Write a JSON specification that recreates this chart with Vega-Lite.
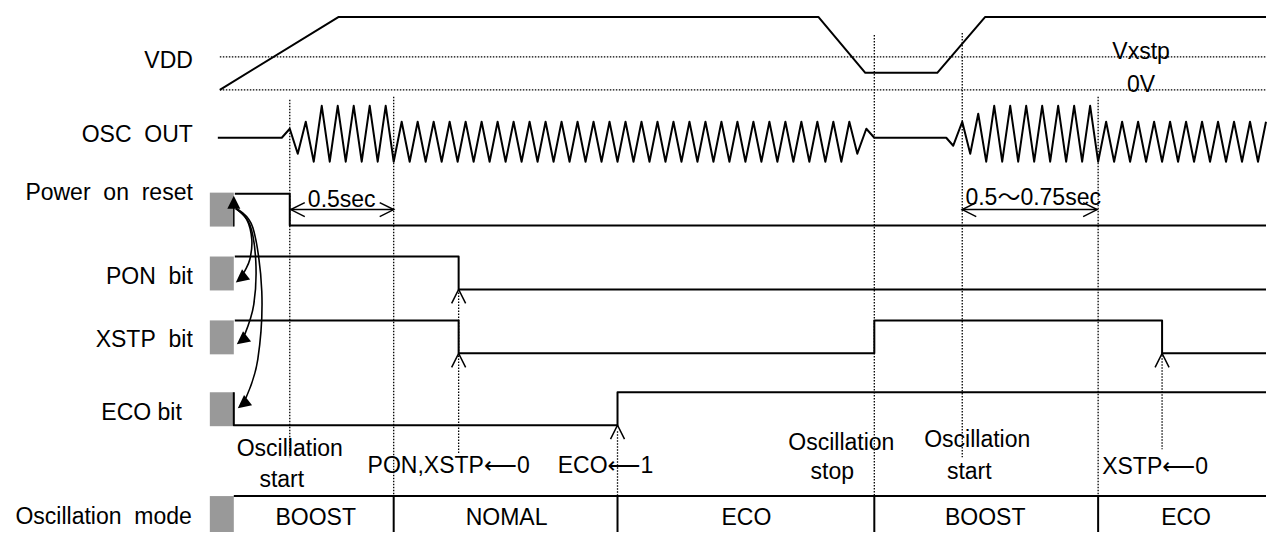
{
  "$schema": "https://vega.github.io/schema/vega-lite/v6.json",
  "width": 1267,
  "height": 533,
  "autosize": {"type": "fit", "contains": "padding"},
  "padding": 0,
  "background": "white",
  "config": {"view": {"stroke": null}, "font": "Liberation Sans"},
  "datasets": {
    "box": [
      {"x": 210, "x2": 234, "y": 193, "y2": 227},
      {"x": 210, "x2": 234, "y": 257, "y2": 291},
      {"x": 210, "x2": 234, "y": 321, "y2": 355},
      {"x": 210, "x2": 234, "y": 393, "y2": 427},
      {"x": 210, "x2": 234, "y": 497, "y2": 533}
    ],
    "wave": [
      {"s": "vdd", "x": 220, "y": 90}, {"s": "vdd", "x": 339, "y": 17}, {"s": "vdd", "x": 819, "y": 17}, {"s": "vdd", "x": 866, "y": 73}, {"s": "vdd", "x": 938, "y": 73}, {"s": "vdd", "x": 986, "y": 17}, {"s": "vdd", "x": 1267, "y": 17},
      {"s": "por", "x": 235, "y": 194}, {"s": "por", "x": 290, "y": 194}, {"s": "por", "x": 290, "y": 226}, {"s": "por", "x": 1267, "y": 226},
      {"s": "pon", "x": 235, "y": 257}, {"s": "pon", "x": 459, "y": 257}, {"s": "pon", "x": 459, "y": 290}, {"s": "pon", "x": 1267, "y": 290},
      {"s": "xstp", "x": 235, "y": 321}, {"s": "xstp", "x": 459, "y": 321}, {"s": "xstp", "x": 459, "y": 354}, {"s": "xstp", "x": 875, "y": 354}, {"s": "xstp", "x": 875, "y": 321}, {"s": "xstp", "x": 1163, "y": 321}, {"s": "xstp", "x": 1163, "y": 354}, {"s": "xstp", "x": 1267, "y": 354},
      {"s": "eco", "x": 234, "y": 393}, {"s": "eco", "x": 234, "y": 426}, {"s": "eco", "x": 618, "y": 426}, {"s": "eco", "x": 618, "y": 393}, {"s": "eco", "x": 1267, "y": 393},
      {"s": "mode", "x": 234, "y": 497}, {"s": "mode", "x": 1267, "y": 497},
      {"s": "osc", "x": 218, "y": 138}, {"s": "osc", "x": 282, "y": 138}, {"s": "osc", "x": 290, "y": 129}, {"s": "osc", "x": 298, "y": 154}, {"s": "osc", "x": 306, "y": 122}, {"s": "osc", "x": 314, "y": 162},
      {"s": "osc", "x": 322, "y": 106}, {"s": "osc", "x": 330, "y": 162}, {"s": "osc", "x": 338, "y": 106}, {"s": "osc", "x": 346, "y": 162}, {"s": "osc", "x": 354, "y": 106}, {"s": "osc", "x": 362, "y": 162}, {"s": "osc", "x": 370, "y": 106}, {"s": "osc", "x": 378, "y": 162}, {"s": "osc", "x": 386, "y": 106}, {"s": "osc", "x": 394, "y": 162},
      {"s": "osc", "x": 402, "y": 122}, {"s": "osc", "x": 410, "y": 162}, {"s": "osc", "x": 418, "y": 122}, {"s": "osc", "x": 426, "y": 162}, {"s": "osc", "x": 434, "y": 122}, {"s": "osc", "x": 442, "y": 162}, {"s": "osc", "x": 450, "y": 122}, {"s": "osc", "x": 458, "y": 162},
      {"s": "osc", "x": 466, "y": 122}, {"s": "osc", "x": 474, "y": 162}, {"s": "osc", "x": 482, "y": 122}, {"s": "osc", "x": 490, "y": 162}, {"s": "osc", "x": 498, "y": 122}, {"s": "osc", "x": 506, "y": 162}, {"s": "osc", "x": 514, "y": 122}, {"s": "osc", "x": 522, "y": 162},
      {"s": "osc", "x": 530, "y": 122}, {"s": "osc", "x": 538, "y": 162}, {"s": "osc", "x": 546, "y": 122}, {"s": "osc", "x": 554, "y": 162}, {"s": "osc", "x": 562, "y": 122}, {"s": "osc", "x": 570, "y": 162}, {"s": "osc", "x": 578, "y": 122}, {"s": "osc", "x": 586, "y": 162},
      {"s": "osc", "x": 594, "y": 122}, {"s": "osc", "x": 602, "y": 162}, {"s": "osc", "x": 610, "y": 122}, {"s": "osc", "x": 618, "y": 162}, {"s": "osc", "x": 626, "y": 122}, {"s": "osc", "x": 634, "y": 162}, {"s": "osc", "x": 642, "y": 122}, {"s": "osc", "x": 650, "y": 162},
      {"s": "osc", "x": 658, "y": 122}, {"s": "osc", "x": 666, "y": 162}, {"s": "osc", "x": 674, "y": 122}, {"s": "osc", "x": 682, "y": 162}, {"s": "osc", "x": 690, "y": 122}, {"s": "osc", "x": 698, "y": 162}, {"s": "osc", "x": 706, "y": 122}, {"s": "osc", "x": 714, "y": 162},
      {"s": "osc", "x": 722, "y": 122}, {"s": "osc", "x": 730, "y": 162}, {"s": "osc", "x": 738, "y": 122}, {"s": "osc", "x": 746, "y": 162}, {"s": "osc", "x": 754, "y": 122}, {"s": "osc", "x": 762, "y": 162}, {"s": "osc", "x": 770, "y": 122}, {"s": "osc", "x": 778, "y": 162},
      {"s": "osc", "x": 786, "y": 122}, {"s": "osc", "x": 794, "y": 162}, {"s": "osc", "x": 802, "y": 122}, {"s": "osc", "x": 810, "y": 162}, {"s": "osc", "x": 818, "y": 122}, {"s": "osc", "x": 826, "y": 162}, {"s": "osc", "x": 834, "y": 122}, {"s": "osc", "x": 842, "y": 162},
      {"s": "osc", "x": 850, "y": 122}, {"s": "osc", "x": 858, "y": 154}, {"s": "osc", "x": 867, "y": 129}, {"s": "osc", "x": 875, "y": 138}, {"s": "osc", "x": 947, "y": 138}, {"s": "osc", "x": 954, "y": 146}, {"s": "osc", "x": 963, "y": 122}, {"s": "osc", "x": 971, "y": 154},
      {"s": "osc", "x": 979, "y": 114}, {"s": "osc", "x": 987, "y": 162}, {"s": "osc", "x": 995, "y": 106}, {"s": "osc", "x": 1003, "y": 162}, {"s": "osc", "x": 1011, "y": 106}, {"s": "osc", "x": 1019, "y": 162}, {"s": "osc", "x": 1027, "y": 106}, {"s": "osc", "x": 1035, "y": 162},
      {"s": "osc", "x": 1043, "y": 106}, {"s": "osc", "x": 1051, "y": 162}, {"s": "osc", "x": 1059, "y": 106}, {"s": "osc", "x": 1067, "y": 162}, {"s": "osc", "x": 1075, "y": 106}, {"s": "osc", "x": 1083, "y": 162}, {"s": "osc", "x": 1091, "y": 106}, {"s": "osc", "x": 1099, "y": 162},
      {"s": "osc", "x": 1107, "y": 122}, {"s": "osc", "x": 1115, "y": 162}, {"s": "osc", "x": 1123, "y": 122}, {"s": "osc", "x": 1131, "y": 162}, {"s": "osc", "x": 1139, "y": 122}, {"s": "osc", "x": 1147, "y": 162}, {"s": "osc", "x": 1155, "y": 122}, {"s": "osc", "x": 1163, "y": 162},
      {"s": "osc", "x": 1171, "y": 122}, {"s": "osc", "x": 1179, "y": 162}, {"s": "osc", "x": 1187, "y": 122}, {"s": "osc", "x": 1195, "y": 162}, {"s": "osc", "x": 1203, "y": 122}, {"s": "osc", "x": 1211, "y": 162}, {"s": "osc", "x": 1219, "y": 122}, {"s": "osc", "x": 1227, "y": 162},
      {"s": "osc", "x": 1235, "y": 122}, {"s": "osc", "x": 1243, "y": 162}, {"s": "osc", "x": 1251, "y": 122}, {"s": "osc", "x": 1259, "y": 162}, {"s": "osc", "x": 1267, "y": 122}
    ],
    "dot": [
      {"x": 220, "x2": 1267, "y": 57, "y2": 57},
      {"x": 220, "x2": 1267, "y": 90, "y2": 90},
      {"x": 290, "x2": 290, "y": 100, "y2": 458},
      {"x": 394, "x2": 394, "y": 97, "y2": 497},
      {"x": 459, "x2": 459, "y": 293, "y2": 455},
      {"x": 618, "x2": 618, "y": 432, "y2": 497},
      {"x": 875, "x2": 875, "y": 35, "y2": 497},
      {"x": 963, "x2": 963, "y": 33, "y2": 458},
      {"x": 1099, "x2": 1099, "y": 97, "y2": 497},
      {"x": 1163, "x2": 1163, "y": 356, "y2": 450}
    ],
    "seg": [
      {"x": 394, "x2": 394, "y": 497, "y2": 533},
      {"x": 618, "x2": 618, "y": 497, "y2": 533},
      {"x": 875, "x2": 875, "y": 497, "y2": 533},
      {"x": 1099, "x2": 1099, "y": 497, "y2": 533}
    ],
    "thin": [
      {"x": 291, "x2": 394, "y": 210, "y2": 210},
      {"x": 963, "x2": 1098, "y": 210, "y2": 210},
      {"x": 234, "x2": 234, "y": 205, "y2": 227}
    ],
    "curve": [
      {"s": "c1", "x": 236, "y": 209}, {"s": "c1", "x": 247, "y": 220}, {"s": "c1", "x": 252, "y": 240}, {"s": "c1", "x": 250, "y": 260}, {"s": "c1", "x": 244, "y": 273},
      {"s": "c2", "x": 236, "y": 209}, {"s": "c2", "x": 250, "y": 225}, {"s": "c2", "x": 256, "y": 262}, {"s": "c2", "x": 254, "y": 305}, {"s": "c2", "x": 245, "y": 335},
      {"s": "c3", "x": 236, "y": 209}, {"s": "c3", "x": 253, "y": 228}, {"s": "c3", "x": 262, "y": 292}, {"s": "c3", "x": 258, "y": 360}, {"s": "c3", "x": 246, "y": 399}
    ],
    "head": [
      {"x": 234, "y": 196, "a": 0},
      {"x": 236, "y": 283, "a": 232},
      {"x": 237, "y": 345, "a": 232},
      {"x": 238, "y": 409, "a": 232}
    ],
    "chev": [
      {"x": 459, "y": 290, "a": 0},
      {"x": 459, "y": 354, "a": 0},
      {"x": 618, "y": 426, "a": 0},
      {"x": 1163, "y": 354, "a": 0},
      {"x": 291, "y": 210, "a": 270},
      {"x": 394, "y": 210, "a": 90},
      {"x": 963, "y": 210, "a": 270},
      {"x": 1098, "y": 210, "a": 90}
    ],
    "lab": [
      {"x": 193, "y": 68, "t": "VDD"},
      {"x": 193, "y": 142, "t": "OSC\u00a0\u00a0OUT"},
      {"x": 193, "y": 200, "t": "Power\u00a0\u00a0on\u00a0\u00a0reset"},
      {"x": 193, "y": 285, "t": "PON\u00a0\u00a0bit"},
      {"x": 193, "y": 348, "t": "XSTP\u00a0\u00a0bit"},
      {"x": 182, "y": 421, "t": "ECO bit"},
      {"x": 192, "y": 525, "t": "Oscillation\u00a0\u00a0mode"}
    ],
    "ann": [
      {"x": 290, "y": 457, "t": "Oscillation"},
      {"x": 282, "y": 488, "t": "start"},
      {"x": 449, "y": 474, "t": "PON,XSTP⟵0"},
      {"x": 606, "y": 474, "t": "ECO⟵1"},
      {"x": 842, "y": 451, "t": "Oscillation"},
      {"x": 833, "y": 480, "t": "stop"},
      {"x": 978, "y": 448, "t": "Oscillation"},
      {"x": 970, "y": 480, "t": "start"},
      {"x": 1156, "y": 475, "t": "XSTP⟵0"},
      {"x": 316, "y": 526, "t": "BOOST"},
      {"x": 507, "y": 526, "t": "NOMAL"},
      {"x": 747, "y": 526, "t": "ECO"},
      {"x": 986, "y": 526, "t": "BOOST"},
      {"x": 1187, "y": 526, "t": "ECO"},
      {"x": 1142, "y": 59, "t": "Vxstp"},
      {"x": 1142, "y": 92, "t": "0V"},
      {"x": 342, "y": 207, "t": "0.5sec"},
      {"x": 1034, "y": 205, "t": "0.5～0.75sec"}
    ]
  },
  "layer": [
    {
      "data": {"name": "box"},
      "mark": {"type": "rect", "color": "#999999"},
      "encoding": {
        "x": {"field": "x", "type": "quantitative", "scale": {"domain": [0, 1267], "nice": false, "zero": false}, "axis": null},
        "x2": {"field": "x2"},
        "y": {"field": "y", "type": "quantitative", "scale": {"domain": [0, 533], "reverse": true, "nice": false, "zero": false}, "axis": null},
        "y2": {"field": "y2"}
      }
    },
    {
      "data": {"name": "dot"},
      "mark": {"type": "rule", "color": "black", "strokeWidth": 1.3, "strokeDash": [1.5, 1.5]},
      "encoding": {
        "x": {"field": "x", "type": "quantitative", "scale": {"domain": [0, 1267], "nice": false, "zero": false}, "axis": null},
        "x2": {"field": "x2"},
        "y": {"field": "y", "type": "quantitative", "scale": {"domain": [0, 533], "reverse": true, "nice": false, "zero": false}, "axis": null},
        "y2": {"field": "y2"}
      }
    },
    {
      "data": {"name": "wave"},
      "mark": {"type": "line", "color": "black", "strokeWidth": 2, "strokeJoin": "round"},
      "encoding": {
        "x": {"field": "x", "type": "quantitative", "scale": {"domain": [0, 1267], "nice": false, "zero": false}, "axis": null},
        "y": {"field": "y", "type": "quantitative", "scale": {"domain": [0, 533], "reverse": true, "nice": false, "zero": false}, "axis": null},
        "detail": {"field": "s", "type": "nominal"},
        "order": {"value": null}
      }
    },
    {
      "data": {"name": "seg"},
      "mark": {"type": "rule", "color": "black", "strokeWidth": 2},
      "encoding": {
        "x": {"field": "x", "type": "quantitative", "scale": {"domain": [0, 1267], "nice": false, "zero": false}, "axis": null},
        "x2": {"field": "x2"},
        "y": {"field": "y", "type": "quantitative", "scale": {"domain": [0, 533], "reverse": true, "nice": false, "zero": false}, "axis": null},
        "y2": {"field": "y2"}
      }
    },
    {
      "data": {"name": "thin"},
      "mark": {"type": "rule", "color": "black", "strokeWidth": 1.5},
      "encoding": {
        "x": {"field": "x", "type": "quantitative", "scale": {"domain": [0, 1267], "nice": false, "zero": false}, "axis": null},
        "x2": {"field": "x2"},
        "y": {"field": "y", "type": "quantitative", "scale": {"domain": [0, 533], "reverse": true, "nice": false, "zero": false}, "axis": null},
        "y2": {"field": "y2"}
      }
    },
    {
      "data": {"name": "curve"},
      "mark": {"type": "line", "color": "black", "strokeWidth": 1.6, "interpolate": "cardinal"},
      "encoding": {
        "x": {"field": "x", "type": "quantitative", "scale": {"domain": [0, 1267], "nice": false, "zero": false}, "axis": null},
        "y": {"field": "y", "type": "quantitative", "scale": {"domain": [0, 533], "reverse": true, "nice": false, "zero": false}, "axis": null},
        "detail": {"field": "s", "type": "nominal"},
        "order": {"value": null}
      }
    },
    {
      "data": {"name": "head"},
      "mark": {"type": "point", "shape": "M0,0L1,2L-1,2Z", "filled": true, "color": "black", "opacity": 1, "size": 169},
      "encoding": {
        "x": {"field": "x", "type": "quantitative", "scale": {"domain": [0, 1267], "nice": false, "zero": false}, "axis": null},
        "y": {"field": "y", "type": "quantitative", "scale": {"domain": [0, 533], "reverse": true, "nice": false, "zero": false}, "axis": null},
        "angle": {"field": "a", "type": "quantitative", "scale": null}
      }
    },
    {
      "data": {"name": "chev"},
      "mark": {"type": "point", "shape": "M-1,2L0,0L1,2", "filled": false, "color": "black", "opacity": 1, "strokeWidth": 1.5, "size": 196},
      "encoding": {
        "x": {"field": "x", "type": "quantitative", "scale": {"domain": [0, 1267], "nice": false, "zero": false}, "axis": null},
        "y": {"field": "y", "type": "quantitative", "scale": {"domain": [0, 533], "reverse": true, "nice": false, "zero": false}, "axis": null},
        "angle": {"field": "a", "type": "quantitative", "scale": null}
      }
    },
    {
      "data": {"name": "lab"},
      "mark": {"type": "text", "align": "right", "baseline": "alphabetic", "font": "Liberation Sans", "fontSize": 23, "color": "black"},
      "encoding": {
        "x": {"field": "x", "type": "quantitative", "scale": {"domain": [0, 1267], "nice": false, "zero": false}, "axis": null},
        "y": {"field": "y", "type": "quantitative", "scale": {"domain": [0, 533], "reverse": true, "nice": false, "zero": false}, "axis": null},
        "text": {"field": "t", "type": "nominal"}
      }
    },
    {
      "data": {"name": "ann"},
      "mark": {"type": "text", "align": "center", "baseline": "alphabetic", "font": "Liberation Sans, DejaVu Sans, Noto Sans CJK JP", "fontSize": 23, "color": "black"},
      "encoding": {
        "x": {"field": "x", "type": "quantitative", "scale": {"domain": [0, 1267], "nice": false, "zero": false}, "axis": null},
        "y": {"field": "y", "type": "quantitative", "scale": {"domain": [0, 533], "reverse": true, "nice": false, "zero": false}, "axis": null},
        "text": {"field": "t", "type": "nominal"}
      }
    }
  ]
}
